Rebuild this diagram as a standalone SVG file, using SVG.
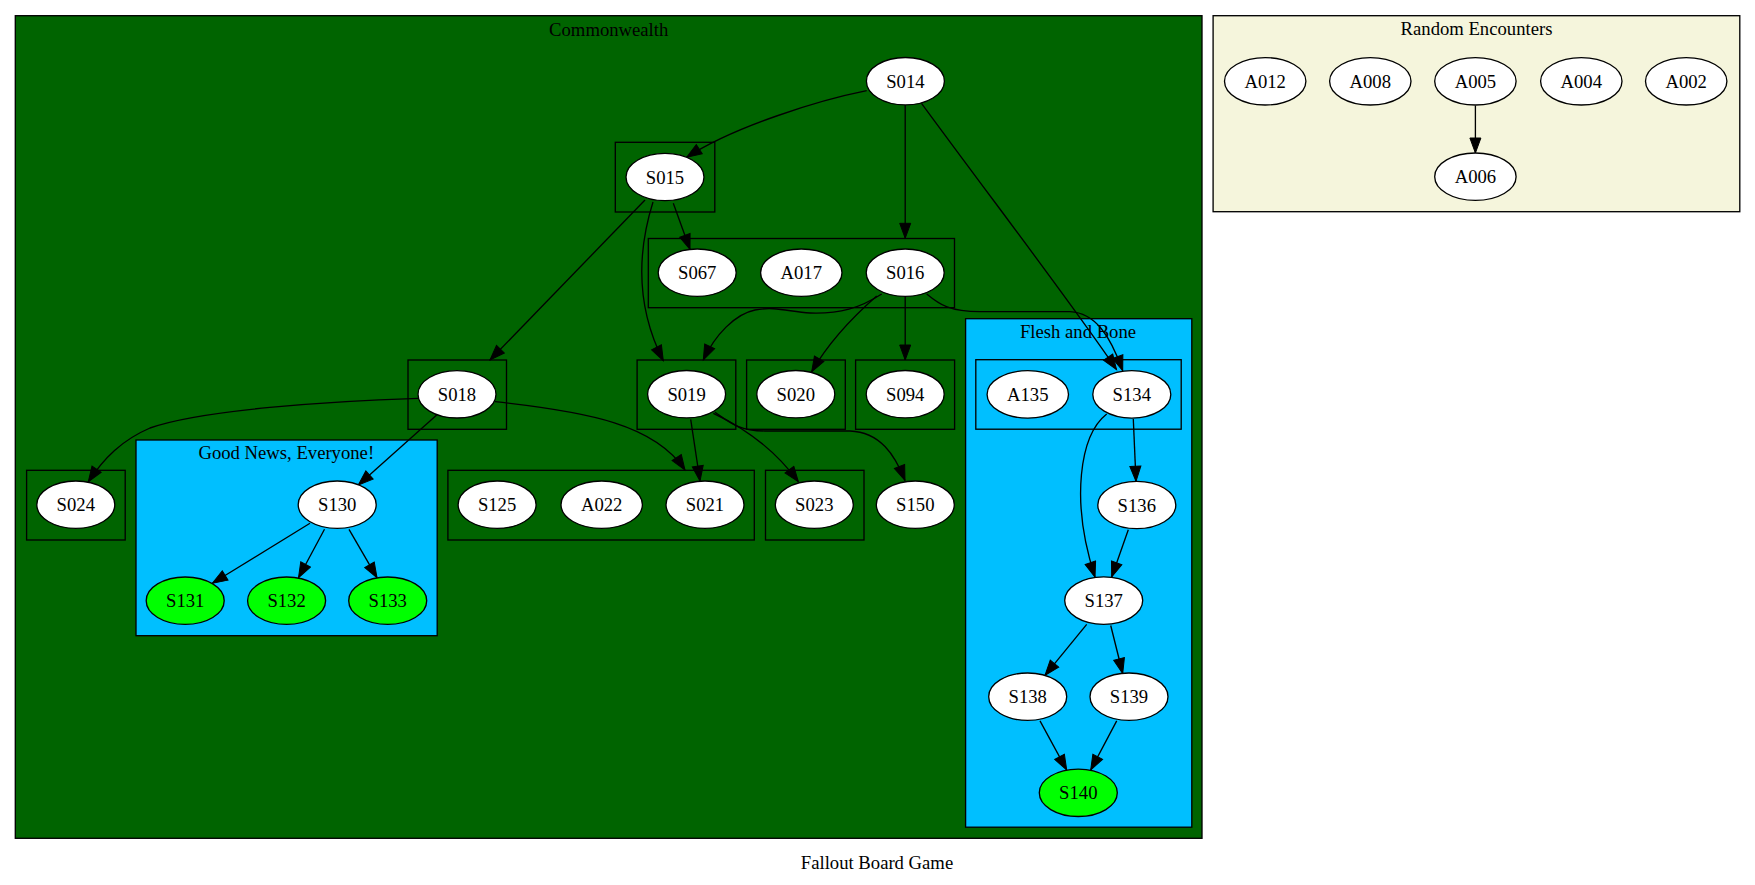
<svg xmlns="http://www.w3.org/2000/svg" width="1755" height="885" viewBox="0 0 1755 885">
<defs>
<marker id="arr" markerUnits="userSpaceOnUse" markerWidth="18" markerHeight="14" viewBox="-1 -1 18 14" refX="15" refY="5.5" orient="auto">
<path d="M0,0 L15,5.5 L0,11 Z" fill="#000" stroke="#000" stroke-width="1"/>
</marker>
</defs>
<style>
text{font-family:"Liberation Serif","Times New Roman",serif;font-size:18.67px;fill:#000;text-anchor:middle}
.cl{stroke:#000;stroke-width:1.33}
.g{fill:#006400}
.b{fill:#00bfff}
.bg{fill:#f5f5dc}
.n ellipse{fill:#fff;stroke:#000;stroke-width:1.33}
.n.lime ellipse{fill:#00ff00}
.e path{fill:none;stroke:#000;stroke-width:1.33;marker-end:url(#arr)}
</style>
<rect width="1755" height="885" fill="#fff"/>
<g id="clusters">
<rect class="cl g" x="15.3" y="15.7" width="1186.7" height="822.6"/>
<text x="608.7" y="35.5">Commonwealth</text>
<rect class="cl bg" x="1213.1" y="15.7" width="526.7" height="196"/>
<text x="1476.5" y="35">Random Encounters</text>
<rect class="cl g" x="615.3" y="142.3" width="99.5" height="69.7"/>
<rect class="cl g" x="648.3" y="238.5" width="306.2" height="69.2"/>
<rect class="cl g" x="408" y="360" width="98.5" height="69.3"/>
<rect class="cl g" x="637.1" y="360" width="98.7" height="69.3"/>
<rect class="cl g" x="746.6" y="360" width="98.7" height="69.3"/>
<rect class="cl g" x="855.6" y="360" width="99" height="69.3"/>
<rect class="cl b" x="965.6" y="318.7" width="226.2" height="508.5"/>
<text x="1078" y="338">Flesh and Bone</text>
<rect class="cl b" x="975.8" y="359.7" width="205.4" height="69.5"/>
<rect class="cl b" x="136" y="440" width="301.2" height="195.7"/>
<text x="286.3" y="459.3">Good News, Everyone!</text>
<rect class="cl g" x="26.6" y="470.3" width="98.6" height="69.7"/>
<rect class="cl g" x="447.9" y="470.3" width="306.4" height="69.7"/>
<rect class="cl g" x="765.5" y="470.3" width="98.5" height="69.7"/>
</g>
<g id="edges" class="e">
<path d="M866.7,90.7 C820,100 735,126 686.7,157.3"/>
<path d="M905.2,105 L905.2,238.3"/>
<path d="M921.5,103.3 C1000,210 1075,308 1116.5,369.5"/>
<path d="M673.3,203.3 L690,249.5"/>
<path d="M645,200 L490,360"/>
<path d="M653,202 C638,250 635,305 663.3,360.7"/>
<path d="M881.7,294 C860,308 840,314 810,313 C790,312 775,306 755,310 C735,314 715,335 703.3,360"/>
<path d="M876.7,296 C855,315 830,340 811.7,371.7"/>
<path d="M905.2,297 L905.2,360"/>
<path d="M926.7,294 C940,305 950,311.7 980,311.7 L1070,311.7 C1095,313 1110,335 1122.7,370.7"/>
<path d="M418.3,398.3 C330,401 200,410 150,428 C122,440 104,458 88.3,481.7"/>
<path d="M436.7,415 L358.3,485"/>
<path d="M495,401.7 C590,412 655,425 685,470"/>
<path d="M690.7,419.3 L700,481"/>
<path d="M713.3,413.3 C745,428 775,450 798.3,481.7"/>
<path d="M715,412.3 C728,421 738,431 765,431 L850,431 C880,432 895,455 905,480.5"/>
<path d="M310,523.3 L212.4,583.3"/>
<path d="M324.5,529.3 L298.5,577.7"/>
<path d="M349,529.3 L377,577.7"/>
<path d="M1133.3,419 L1136,481.3"/>
<path d="M1106.7,414 C1080,435 1070,500 1095,577"/>
<path d="M1128.3,529.7 L1111.7,577"/>
<path d="M1086.7,624.4 L1045,675.3"/>
<path d="M1110.7,625.5 L1122.7,673.5"/>
<path d="M1040,720.9 L1066.7,770"/>
<path d="M1116.7,720.9 L1090.7,770"/>
<path d="M1475.4,105.5 L1475.4,153"/>
</g>
<g id="S014" class="n"><ellipse cx="905.4" cy="81.2" rx="39" ry="23.7"/><text x="905.4" y="87.7">S014</text></g>
<g id="S015" class="n"><ellipse cx="665" cy="177" rx="39" ry="23.7"/><text x="665" y="183.5">S015</text></g>
<g id="S067" class="n"><ellipse cx="697.2" cy="272.7" rx="39" ry="23.7"/><text x="697.2" y="279.2">S067</text></g>
<g id="A017" class="n"><ellipse cx="801.3" cy="272.7" rx="40.7" ry="23.7"/><text x="801.3" y="279.2">A017</text></g>
<g id="S016" class="n"><ellipse cx="905.2" cy="272.7" rx="39" ry="23.7"/><text x="905.2" y="279.2">S016</text></g>
<g id="S018" class="n"><ellipse cx="457" cy="394.3" rx="39" ry="23.7"/><text x="457" y="400.8">S018</text></g>
<g id="S019" class="n"><ellipse cx="686.6" cy="394.2" rx="39" ry="23.7"/><text x="686.6" y="400.7">S019</text></g>
<g id="S020" class="n"><ellipse cx="795.8" cy="394.2" rx="39" ry="23.7"/><text x="795.8" y="400.7">S020</text></g>
<g id="S094" class="n"><ellipse cx="905.2" cy="394.2" rx="39" ry="23.7"/><text x="905.2" y="400.7">S094</text></g>
<g id="A135" class="n"><ellipse cx="1027.8" cy="394.4" rx="40.7" ry="23.7"/><text x="1027.8" y="400.9">A135</text></g>
<g id="S134" class="n"><ellipse cx="1131.8" cy="394.4" rx="39" ry="23.7"/><text x="1131.8" y="400.9">S134</text></g>
<g id="S024" class="n"><ellipse cx="75.8" cy="504.7" rx="39" ry="23.7"/><text x="75.8" y="511.2">S024</text></g>
<g id="S130" class="n"><ellipse cx="337.2" cy="504.7" rx="39" ry="23.7"/><text x="337.2" y="511.2">S130</text></g>
<g id="S125" class="n"><ellipse cx="497.1" cy="504.7" rx="39" ry="23.7"/><text x="497.1" y="511.2">S125</text></g>
<g id="A022" class="n"><ellipse cx="601.7" cy="504.7" rx="40.7" ry="23.7"/><text x="601.7" y="511.2">A022</text></g>
<g id="S021" class="n"><ellipse cx="705" cy="504.7" rx="39" ry="23.7"/><text x="705" y="511.2">S021</text></g>
<g id="S023" class="n"><ellipse cx="814.3" cy="504.7" rx="39" ry="23.7"/><text x="814.3" y="511.2">S023</text></g>
<g id="S150" class="n"><ellipse cx="915.3" cy="504.7" rx="39" ry="23.7"/><text x="915.3" y="511.2">S150</text></g>
<g id="S136" class="n"><ellipse cx="1136.8" cy="505" rx="39" ry="23.7"/><text x="1136.8" y="511.5">S136</text></g>
<g id="S131" class="n lime"><ellipse cx="185.2" cy="600.7" rx="39" ry="23.7"/><text x="185.2" y="607.2">S131</text></g>
<g id="S132" class="n lime"><ellipse cx="286.6" cy="600.7" rx="39" ry="23.7"/><text x="286.6" y="607.2">S132</text></g>
<g id="S133" class="n lime"><ellipse cx="387.7" cy="600.7" rx="39" ry="23.7"/><text x="387.7" y="607.2">S133</text></g>
<g id="S137" class="n"><ellipse cx="1103.7" cy="600.6" rx="39" ry="23.7"/><text x="1103.7" y="607.1">S137</text></g>
<g id="S138" class="n"><ellipse cx="1027.7" cy="696.7" rx="39" ry="23.7"/><text x="1027.7" y="703.2">S138</text></g>
<g id="S139" class="n"><ellipse cx="1129" cy="696.7" rx="39" ry="23.7"/><text x="1129" y="703.2">S139</text></g>
<g id="S140" class="n lime"><ellipse cx="1078.3" cy="792.8" rx="39" ry="23.7"/><text x="1078.3" y="799.3">S140</text></g>
<g id="A012" class="n"><ellipse cx="1265.2" cy="81.3" rx="40.7" ry="23.7"/><text x="1265.2" y="87.8">A012</text></g>
<g id="A008" class="n"><ellipse cx="1370.3" cy="81.3" rx="40.7" ry="23.7"/><text x="1370.3" y="87.8">A008</text></g>
<g id="A005" class="n"><ellipse cx="1475.4" cy="81.3" rx="40.7" ry="23.7"/><text x="1475.4" y="87.8">A005</text></g>
<g id="A004" class="n"><ellipse cx="1581.3" cy="81.3" rx="40.7" ry="23.7"/><text x="1581.3" y="87.8">A004</text></g>
<g id="A002" class="n"><ellipse cx="1686.2" cy="81.3" rx="40.7" ry="23.7"/><text x="1686.2" y="87.8">A002</text></g>
<g id="A006" class="n"><ellipse cx="1475.4" cy="176.7" rx="40.7" ry="23.7"/><text x="1475.4" y="183.2">A006</text></g>
<text x="877" y="869">Fallout Board Game</text>
</svg>
